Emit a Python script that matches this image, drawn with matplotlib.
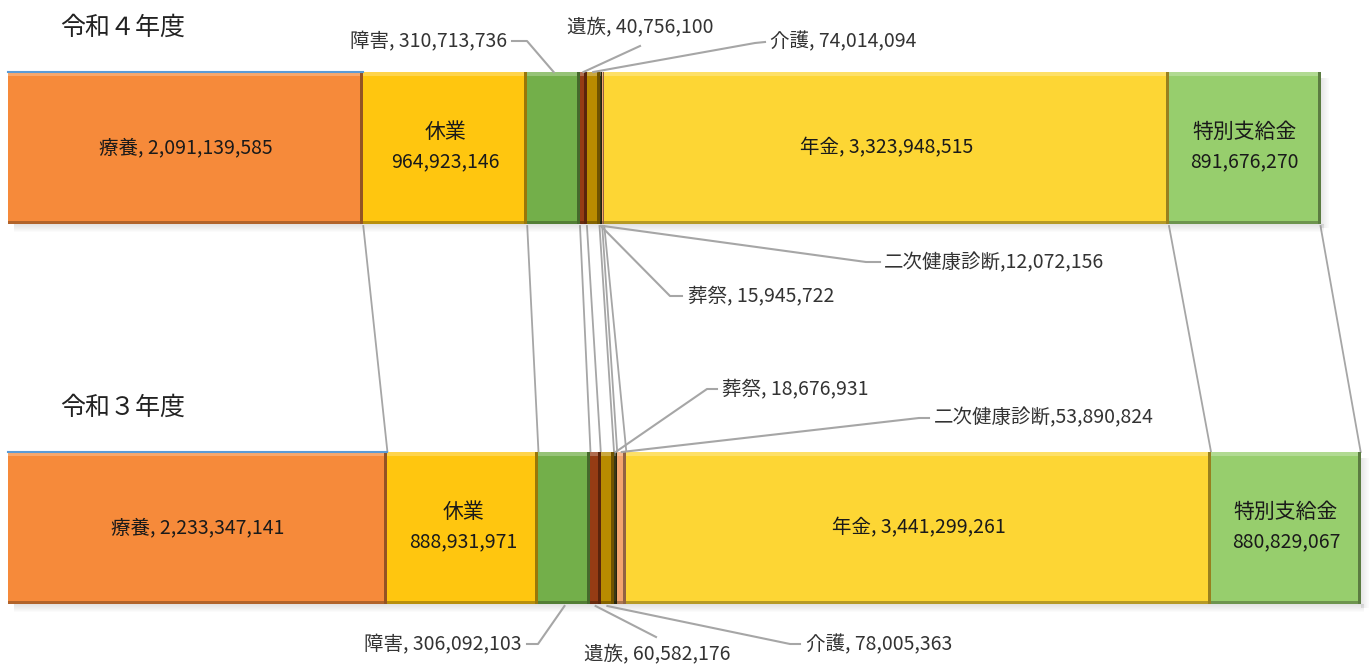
import numpy as np
import matplotlib
matplotlib.use("Agg")
import matplotlib.pyplot as plt
from matplotlib.patches import Rectangle
from matplotlib.colors import to_rgb

plt.rcParams['font.family'] = ['Noto Sans CJK JP', 'DejaVu Sans']

# benefit categories (left to right along each bar)
categories = ['療養', '休業', '障害', '遺族', '介護', '葬祭', '二次健康診断', '年金', '特別支給金']
years = ['令和４年度', '令和３年度']
r4_values = [2091139585, 964923146, 310713736, 40756100, 74014094, 15945722, 12072156, 3323948515, 891676270]
r3_values = [2233347141, 888931971, 306092103, 60582176, 78005363, 18676931, 53890824, 3441299261, 880829067]
colors = ['#F68A3A', '#FFC60F', '#73AF4A', '#953C14', '#B98B00', '#3A3814', '#F2A56F', '#FDD634', '#97CE6D']

W, H = 1371, 664
X0 = 8                 # left edge of the bars (px)
PX = 1e9 / 169.9       # yen per pixel
bar_top = [72, 452]
bar_h = 152

def xd(px):
    return (px - X0) * PX

def shade(c, f):
    r = np.array(to_rgb(c))
    return tuple(np.clip(r * f, 0, 1)) if f < 1 else tuple(r + (1 - r) * (f - 1))

fig = plt.figure(figsize=(W / 100, H / 100), dpi=100)
ax = fig.add_axes([0, 0, 1, 1])
ax.set_xlim(xd(0), xd(W))
ax.set_ylim(H, 0)
ax.axis('off')

series = [np.array(r4_values, dtype=float), np.array(r3_values, dtype=float)]
lefts = [np.concatenate([[0], np.cumsum(v)[:-1]]) for v in series]
ends = [np.cumsum(v) for v in series]

# series lines joining segment boundaries of the two years
for b4, b3 in zip(ends[0], ends[1]):
    ax.plot([b4, b3], [bar_top[0] + bar_h + 2, bar_top[1]], color='#A6A6A6', lw=1.3, zorder=1)

for k in range(2):
    top = bar_top[k]
    bot = top + bar_h
    total = ends[k][-1]
    # soft drop shadow
    for i in range(8):
        ax.add_patch(Rectangle((xd(X0 + 6), bot + i), total - 3 * PX, 1.0,
                               color='#7F7F7F', alpha=0.22 * (1 - i / 8), lw=0, zorder=2))
        ax.add_patch(Rectangle((total + i * PX, top + 6), PX, bar_h - 2,
                               color='#7F7F7F', alpha=0.18 * (1 - i / 8), lw=0, zorder=2))
    for j, (l, w) in enumerate(zip(lefts[k], series[k])):
        c = colors[j]
        ax.add_patch(Rectangle((l, top), w, bar_h, facecolor=c, lw=0, zorder=3))
        # bevel: light top, dark right and bottom
        ax.add_patch(Rectangle((l, top), w, 4, facecolor=shade(c, 1.25), lw=0, zorder=4))
        ax.add_patch(Rectangle((l, bot - 3), w, 3, facecolor=shade(c, 0.72), lw=0, zorder=4))
        rw = min(3 * PX, w * 0.4)
        ax.add_patch(Rectangle((l + w - rw, top), rw, bar_h, facecolor=shade(c, 0.6), lw=0, zorder=4))
    ax.plot([0, ends[k][0]], [top, top], color='#5B9BD5', lw=1.5, zorder=5)
    ax.text(xd(60), top - 44, years[k], fontsize=18, color='#222222', va='center', ha='left')

# labels drawn inside the wide segments
inside = {'療養': 'one', '年金': 'one', '休業': 'two', '特別支給金': 'two'}
for k in range(2):
    yc = bar_top[k] + bar_h / 2
    for j, cat in enumerate(categories):
        if cat not in inside:
            continue
        xc = lefts[k][j] + series[k][j] / 2
        val = f'{int(series[k][j]):,}'
        if inside[cat] == 'one':
            ax.text(xc, yc, f'{cat}, {val}', fontsize=14, color='#1A1A1A',
                    ha='center', va='center', zorder=6)
        else:
            ax.text(xc, yc - 16, cat, fontsize=15, color='#1A1A1A', ha='center', va='center', zorder=6)
            ax.text(xc, yc + 14, val, fontsize=14, color='#1A1A1A', ha='center', va='center', zorder=6)

# callout labels for the narrow segments: (text x, text y, align, leader elbow points)
callouts = [
    {'障害': (507, 42, 'right', [(512, 41), (527, 41)]),
     '遺族': (640, 28, 'center', [(640, 46)]),
     '介護': (770, 42, 'left', [(765, 42), (755, 43)]),
     '葬祭': (688, 297, 'left', [(682, 296), (670, 296)]),
     '二次健康診断': (884, 263, 'left', [(880, 262), (866, 262)])},
    {'葬祭': (722, 390, 'left', [(717, 389), (707, 389)]),
     '二次健康診断': (934, 418, 'left', [(929, 418), (919, 418)]),
     '障害': (522, 645, 'right', [(527, 644), (538, 644)]),
     '遺族': (584, 655, 'left', [(656, 637)]),
     '介護': (806, 645, 'left', [(800, 644), (790, 644)])},
]
for k in range(2):
    top = bar_top[k]
    for cat, (tx, ty, ha, elbow) in callouts[k].items():
        j = categories.index(cat)
        xm = lefts[k][j] + series[k][j] / 2
        sep = ',' if cat == '二次健康診断' else ', '
        ax.text(xd(tx), ty, f'{cat}{sep}{int(series[k][j]):,}', fontsize=14,
                color='#333333', ha=ha, va='center', zorder=6)
        ey = top if ty < top else top + bar_h + 2
        xs = [xd(p[0]) for p in elbow] + [xm]
        ys = [p[1] for p in elbow] + [ey]
        ax.plot(xs, ys, color='#A6A6A6', lw=1.5, zorder=5)

fig.savefig('out.png', dpi=100, facecolor='white')
